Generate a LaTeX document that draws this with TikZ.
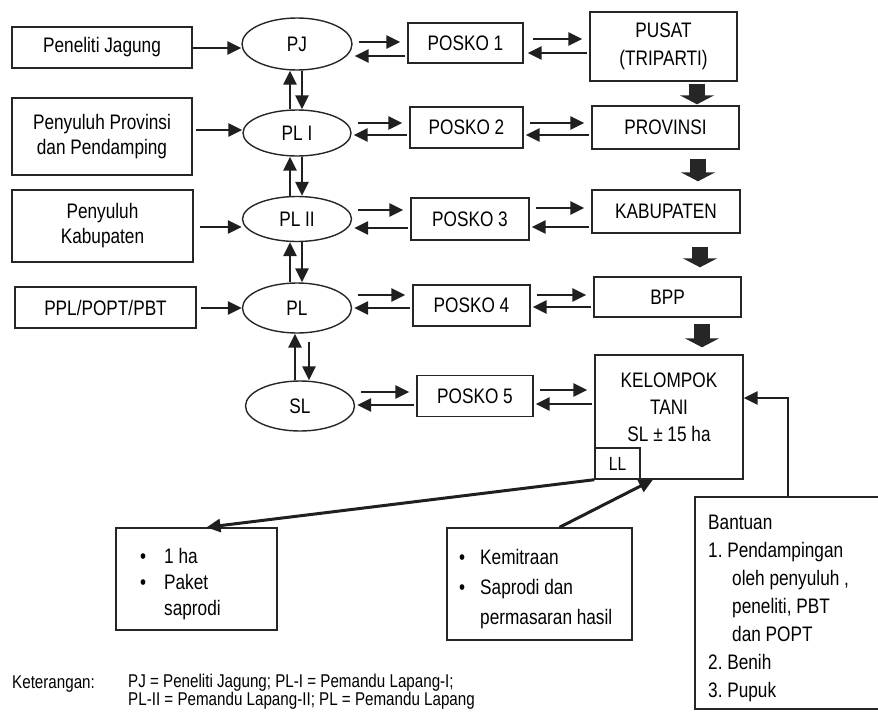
\documentclass[tikz,border=0pt]{standalone}
\usepackage{fontspec}
\setmainfont{Liberation Sans}[FakeStretch=0.82]
\usetikzlibrary{arrows.meta,shapes.geometric,calc}
\begin{document}
\begin{tikzpicture}[x=1pt,y=-1pt,
  font=\fontsize{21}{25}\selectfont,
  box/.style={draw=black!85, line width=1.4pt, rectangle, inner sep=0pt, align=center},
  ell/.style={draw=black!85, line width=1.4pt, ellipse, inner sep=0pt},
  arr/.style={draw=black!88, line width=2.9pt, -{Triangle[length=14pt,width=13pt]}},
  arrR/.style={arr, shorten <=6pt, shorten >=7pt},
  arrL/.style={arr, shorten <=2pt, shorten >=2pt},
  blk/.style={draw=black!85, line width=16pt, -{Triangle[length=9pt,width=34pt]}},
  txt/.style={inner sep=0pt, align=left, anchor=north west}]
\useasboundingbox (0,0) rectangle (878,712);
\clip (0,0) rectangle (878,712);

% helper x positions
\coordinate (vu) at (290,0); \coordinate (vd) at (302,0);
\coordinate (vu5) at (295,0); \coordinate (vd5) at (309,0);
\coordinate (ba) at (697,0); \coordinate (bb) at (698,0);
\coordinate (bc) at (700,0); \coordinate (bd) at (702,0);
\coordinate (bx) at (788,0);

% left boxes
\node[box, minimum width=180pt, minimum height=41pt] (LB1) at (102,47.5) {Peneliti Jagung};
\node[box, minimum width=180pt, minimum height=77pt] (LB2) at (102,136.5) {Penyuluh Provinsi\\dan Pendamping};
\node[box, minimum width=181pt, minimum height=72pt] (LB3) at (102.5,226) {Penyuluh\\Kabupaten};
\node[box, minimum width=181pt, minimum height=41pt] (LB4) at (105.5,307.5) {PPL/POPT/PBT};

% ellipses
\node[ell, minimum width=110pt, minimum height=52pt] (PJ) at (297,44) {PJ};
\node[ell, minimum width=108pt, minimum height=46pt] (PL1) at (297,133) {PL I};
\node[ell, minimum width=109pt, minimum height=45pt] (PL2) at (297,219) {PL II};
\node[ell, minimum width=109pt, minimum height=50pt] (PL) at (297,308) {PL};
\node[ell, minimum width=109pt, minimum height=50pt] (SL) at (300,406) {SL};

% posko
\node[box, minimum width=115pt, minimum height=40pt] (P1) at (465.5,43) {POSKO 1};
\node[box, minimum width=113pt, minimum height=41pt] (P2) at (466.5,127.5) {POSKO 2};
\node[box, minimum width=118pt, minimum height=42pt] (P3) at (470,219) {POSKO 3};
\node[box, minimum width=117pt, minimum height=41pt] (P4) at (471.5,305.5) {POSKO 4};
\node[box, minimum width=116pt, minimum height=41pt] (P5) at (475,396) {POSKO 5};

% right column
\node[box, minimum width=147pt, minimum height=69pt, font=\fontsize{21}{28}\selectfont] (PUSAT) at (663.5,46.5) {PUSAT\\(TRIPARTI)};
\node[box, minimum width=147pt, minimum height=43pt] (PROV) at (665.5,127.5) {PROVINSI};
\node[box, minimum width=148pt, minimum height=43pt] (KAB) at (666,211.5) {KABUPATEN};
\node[box, minimum width=147pt, minimum height=40pt] (BPP) at (667.5,297) {BPP};
\node[box, minimum width=148pt, minimum height=124pt] (KT) at (669,417) {};
\node[inner sep=0pt, align=center, anchor=north, font=\fontsize{21}{27}\selectfont] (KTt) at (669,373) {KELOMPOK\\TANI\\SL ± 15 ha};
\node[box, minimum width=45pt, minimum height=31pt, font=\fontsize{19}{22}\selectfont] (LL) at (617.5,463.5) {LL};

% bottom boxes
\node[box, minimum width=161pt, minimum height=102pt] (OH) at (196.5,579) {};
\node[txt, font=\fontsize{21}{26}\selectfont] (OHt) at (140,548) {\makebox[24pt][l]{•}1 ha\\\makebox[24pt][l]{•}Paket\\\makebox[24pt][l]{}saprodi};
\node[box, minimum width=185pt, minimum height=112pt] (KM) at (539.5,584) {};
\node[txt, font=\fontsize{21}{30}\selectfont] (KMt) at (459,549) {\makebox[21pt][l]{•}Kemitraan\\\makebox[21pt][l]{•}Saprodi dan\\\makebox[21pt][l]{}permasaran hasil};
\node[box, minimum width=195pt, minimum height=212pt] (BT) at (792.5,603) {};
\node[txt, font=\fontsize{21}{28}\selectfont] (BTt) at (708,515) {Bantuan\\1.\ Pendampingan\\\hspace*{24pt}oleh penyuluh ,\\\hspace*{24pt}peneliti, PBT\\\hspace*{24pt}dan POPT\\2.\ Benih\\3.\ Pupuk};

% keterangan
\node[inner sep=0pt, anchor=base west, font=\fontsize{18.5}{15.5}\selectfont] (KETa) at (12,688) {Keterangan:};
\node[txt, font=\fontsize{18.5}{15.5}\selectfont] (KETb) at (128,674) {PJ = Peneliti Jagung; PL-I = Pemandu Lapang-I;\\PL-II = Pemandu Lapang-II; PL = Pemandu Lapang};

% left box arrows
\draw[arr] (LB1.east |- 0,48) -- (PJ.west |- 0,48);
\draw[arr, shorten <=3pt] (LB2.east |- 0,130) -- (PL1.west |- 0,130);
\draw[arr, shorten <=6pt] (LB3.east |- 0,227) -- (PL2.west |- 0,227);
\draw[arr, shorten <=4pt] (LB4.east |- 0,308) -- (PL.west |- 0,308);

% vertical pairs
\draw[arr] (PL1.north -| vu) -- (PJ.south -| vu);
\draw[arr] (PJ.south -| vd) -- (PL1.north -| vd);
\draw[arr] (PL2.north -| vu) -- (PL1.south -| vu);
\draw[arr] (PL1.south -| vd) -- (PL2.north -| vd);
\draw[arr] (PL.north -| vu) -- (PL2.south -| vu);
\draw[arr] (PL2.south -| vd) -- (PL.north -| vd);
\draw[arr] (SL.north -| vu5) -- (PL.south -| vu5);
\draw[arr, shorten <=8pt] (PL.south -| vd5) -- (SL.north -| vd5);

% row 1
\draw[arrR] (PJ.east |- 0,42) -- (P1.west |- 0,42);
\draw[arrL] (P1.west |- 0,56) -- (PJ.east |- 0,56);
\draw[arrR, shorten <=9pt] (P1.east |- 0,39) -- (PUSAT.west |- 0,39);
\draw[arrL, shorten >=4pt] (PUSAT.west |- 0,53) -- (P1.east |- 0,53);
% row 2
\draw[arrR] (PL1.east |- 0,123) -- (P2.west |- 0,123);
\draw[arrL] (P2.west |- 0,135) -- (PL1.east |- 0,135);
\draw[arrR] (P2.east |- 0,123) -- (PROV.west |- 0,123);
\draw[arrL] (PROV.west |- 0,135) -- (P2.east |- 0,135);
% row 3
\draw[arrR] (PL2.east |- 0,210) -- (P3.west |- 0,210);
\draw[arrL] (P3.west |- 0,228) -- (PL2.east |- 0,228);
\draw[arrR] (P3.east |- 0,208) -- (KAB.west |- 0,208);
\draw[arrL] (KAB.west |- 0,227) -- (P3.east |- 0,227);
% row 4
\draw[arrR] (PL.east |- 0,295) -- (P4.west |- 0,295);
\draw[arrL] (P4.west |- 0,308) -- (PL.east |- 0,308);
\draw[arrR] (P4.east |- 0,295) -- (BPP.west |- 0,295);
\draw[arrL] (BPP.west |- 0,307) -- (P4.east |- 0,307);
% row 5
\draw[arrR] (SL.east |- 0,392) -- (P5.west |- 0,392);
\draw[arrL] (P5.west |- 0,405) -- (SL.east |- 0,405);
\draw[arrR] (P5.east |- 0,390) -- (KT.west |- 0,390);
\draw[arrL] (KT.west |- 0,404) -- (P5.east |- 0,404);

% block arrows
\draw[blk, shorten <=2pt, shorten >=1pt] (PUSAT.south -| ba) -- (PROV.north -| ba);
\draw[blk, shorten <=9pt, shorten >=8pt] (PROV.south -| bb) -- (KAB.north -| bb);
\draw[blk, shorten <=13pt, shorten >=9pt] (KAB.south -| bc) -- (BPP.north -| bc);
\draw[blk, shorten <=6pt, shorten >=7pt] (BPP.south -| bd) -- (KT.north -| bd);

% bottom arrows
\draw[arr, line width=3pt] (LL.south west) -- ([xshift=10pt]OH.north);
\draw[arr, line width=3pt] ([xshift=20pt]KM.north) -- ([xshift=-16pt]KT.south);
\draw[arr, line width=2.6pt] (BT.north -| bx) |- ([yshift=19pt]KT.east);
\end{tikzpicture}
\end{document}
